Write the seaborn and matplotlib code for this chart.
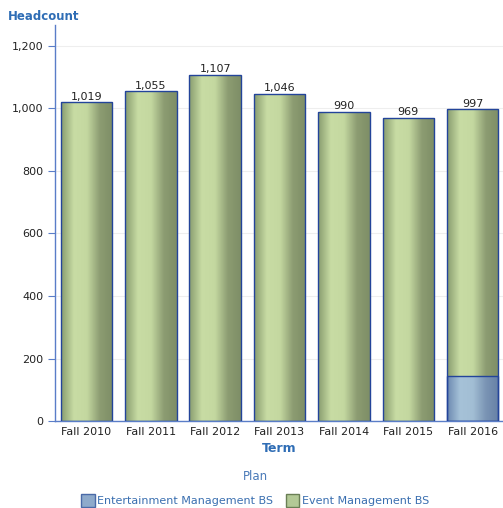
import numpy as np
import pandas as pd
import matplotlib
matplotlib.use("Agg")
import matplotlib.pyplot as plt
from matplotlib.colors import LinearSegmentedColormap
from matplotlib.patches import Patch
import seaborn as sns

terms = ['Fall 2010', 'Fall 2011', 'Fall 2012', 'Fall 2013', 'Fall 2014', 'Fall 2015', 'Fall 2016']
entertainment = [0, 0, 0, 0, 0, 0, 143]
event = [1019, 1055, 1107, 1046, 990, 969, 854]
totals = [a + b for a, b in zip(entertainment, event)]

df = pd.DataFrame({'Term': terms, 'Entertainment Management BS': entertainment,
                   'Event Management BS': event, 'Total': totals})

sns.set_style('white')
plt.rcParams['font.family'] = ['DejaVu Sans']

blue_txt = '#2f6db5'
axis_blue = '#5a7dc8'
edge_col = '#23449a'

green_cmap = LinearSegmentedColormap.from_list('g', ['#889c6e', '#c8dca4', '#c4d8a0', '#8c9c72', '#7e8e66'])
blue_cmap = LinearSegmentedColormap.from_list('b', ['#6b88b0', '#a6c2d8', '#a2bed4', '#7a94b4', '#6680a6'])

fig = plt.figure(figsize=(5.03, 5.08), dpi=100)
ax = fig.add_axes([0.109, 0.171, 0.891, 0.78])

sns.barplot(data=df, x='Term', y='Total', color='#b8cc98', width=0.8, ax=ax)
n = len(terms)
green_bars = list(ax.patches[:n])
sns.barplot(data=df, x='Term', y='Entertainment Management BS', color='#93b0cc', width=0.8, ax=ax)
blue_bars = list(ax.patches[n:])

grad = np.linspace(0, 1, 256).reshape(1, -1)


def shade(bars, cmap, z):
    for p in bars:
        h = p.get_height()
        if h <= 0:
            p.set_visible(False)
            continue
        x0, w, y0 = p.get_x(), p.get_width(), p.get_y()
        im = ax.imshow(grad, cmap=cmap, aspect='auto', extent=(x0, x0 + w, y0, y0 + h),
                       zorder=z, interpolation='bicubic')
        im.set_clip_path(p)
        p.set_facecolor('none')
        p.set_edgecolor(edge_col)
        p.set_linewidth(1.0)
        p.set_zorder(3)


shade(green_bars, green_cmap, 1.5)
shade(blue_bars, blue_cmap, 1.8)

for i, t in enumerate(totals):
    ax.text(i, t + 2, f'{t:,}', ha='center', va='bottom', fontsize=8, color='#222222')

ax.set_xlim(-0.49, 6.47)
ax.set_ylim(0, 1267)
ax.set_yticks([0, 200, 400, 600, 800, 1000, 1200])
ax.set_yticklabels([f'{v:,}' for v in [0, 200, 400, 600, 800, 1000, 1200]])
ax.yaxis.grid(True, color='#eeeeee', linewidth=0.8)
ax.set_axisbelow(True)
ax.tick_params(axis='y', length=5, color=axis_blue, labelsize=8, labelcolor='#222222', left=True, pad=3)
ax.tick_params(axis='x', length=0, labelsize=8, labelcolor='#222222', pad=4)
for s in ['top', 'right']:
    ax.spines[s].set_visible(False)
ax.spines['left'].set_color(axis_blue)
ax.spines['bottom'].set_color(axis_blue)
ax.spines['left'].set_linewidth(1.0)
ax.spines['bottom'].set_linewidth(1.0)

ax.set_ylabel('')
ax.set_xlabel('Term', fontsize=9, fontweight='bold', color=blue_txt, labelpad=4)
fig.text(0.016, 0.967, 'Headcount', fontsize=8.5, fontweight='bold', color=blue_txt, ha='left', va='center')

handles = [Patch(facecolor='#8eaacb', edgecolor='#4a6aa8', label='Entertainment Management BS'),
           Patch(facecolor='#b3c996', edgecolor='#6a7f55', label='Event Management BS')]
leg = fig.legend(handles=handles, loc='lower center', bbox_to_anchor=(0.507, -0.017), ncol=2,
                 frameon=False, title='Plan', fontsize=8, title_fontsize=8.5, labelspacing=1.0,
                 handlelength=1.2, handleheight=1.4, handletextpad=0.2, columnspacing=1.2)
leg.get_title().set_color('#4a7ab8')
for t in leg.get_texts():
    t.set_color('#3a6fb0')

fig.savefig('out.png', dpi=100)
